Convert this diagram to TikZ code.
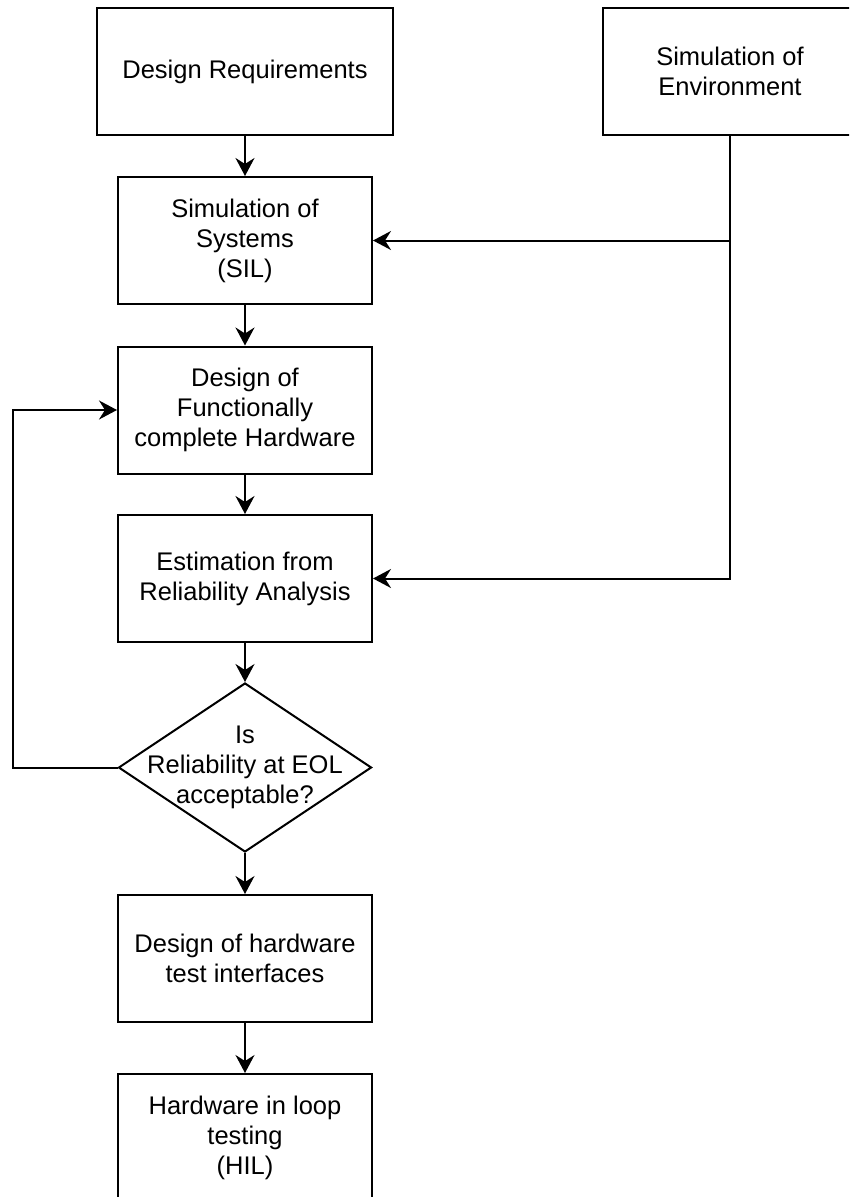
\documentclass[tikz,border=0pt]{standalone}
\usepackage{fontspec}
\setmainfont{Liberation Sans}
\usetikzlibrary{arrows.meta,shapes.geometric}
\begin{document}
\begin{tikzpicture}[x=1pt,y=-1pt,
  box/.style={draw,line width=2pt,minimum width=254pt,minimum height=127pt,inner sep=0pt,
    align=center,font=\fontsize{25.5}{30}\selectfont},
  txt/.style={align=center,font=\fontsize{25.5}{30}\selectfont,inner sep=0pt},
  conn/.style={line width=2pt,-{Stealth[length=18pt,width=19pt,inset=6pt]}}]
\useasboundingbox (0,0) rectangle (849,1197);
\fill[white] (0,0) rectangle (849,1197);
\clip (0,0) rectangle (849,1197);
\node[box,minimum width=296pt] (b1) at (245,71.5) {Design Requirements};
\node[box] (env) at (730,71.5) {Simulation of\\Environment};
\node[box] (b2) at (245,240.5) {Simulation of\\Systems\\(SIL)};
\node[box] (b3) at (245,410) {Design of\\Functionally\\complete Hardware};
\node[box] (b4) at (245,578.5) {Estimation from\\Reliability Analysis};
\node[draw,diamond,line width=2pt,minimum width=253pt,minimum height=169pt,inner sep=0pt] (d) at (245,767.5) {};
\node[txt] (dt) at (d.center) {Is\\Reliability at EOL\\acceptable?};
\node[box] (b6) at (245,958.5) {Design of hardware\\test interfaces};
\node[box] (b7) at (245,1137.5) {Hardware in loop\\testing\\(HIL)};
\coordinate (j) at (env.south |- b2.east);
\coordinate (fb) at (13,767.5);
\draw[conn] (b1) -- (b2);
\draw[conn] (b2) -- (b3);
\draw[conn] (b3) -- (b4);
\draw[conn] (b4) -- (d.north);
\draw[conn] (d.south) -- (b6);
\draw[conn] (b6) -- (b7);
\draw[conn] (env.south) |- (b4.east);
\draw[conn] (j) -- (b2.east);
\draw[conn] (d.west) -- (fb) |- (b3.west);
\end{tikzpicture}
\end{document}
